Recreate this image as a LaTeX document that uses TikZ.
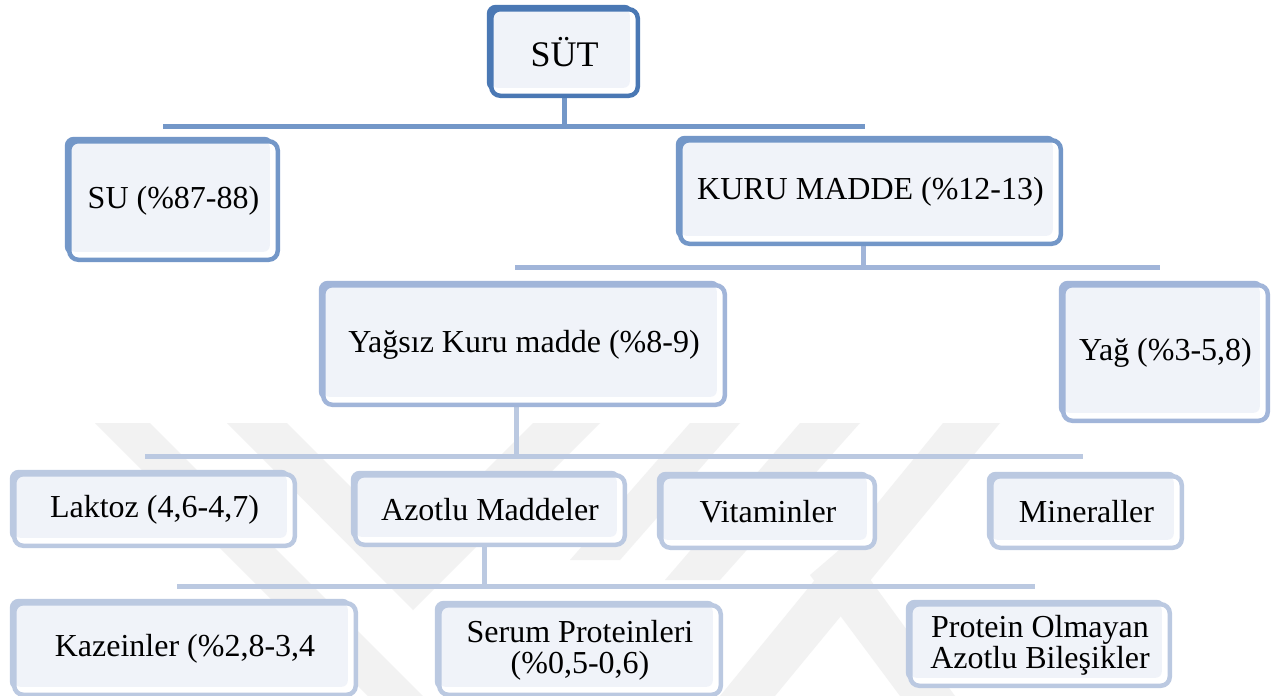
\documentclass[tikz,border=0pt]{standalone}
\usepackage{fontspec}
\setmainfont{Liberation Serif}
\usetikzlibrary{calc}
\definecolor{cA}{HTML}{4A78B4}
\definecolor{cB}{HTML}{7397C8}
\definecolor{cC}{HTML}{A1B5D9}
\definecolor{cD}{HTML}{BBC9E1}
\definecolor{bfill}{HTML}{F0F3F9}
\definecolor{wm}{HTML}{F2F2F2}
\newcommand\boxfont{\fontsize{32}{31}\selectfont}
\newcommand\bigboxfont{\fontsize{36}{36}\selectfont}
\begin{document}
\begin{tikzpicture}[x=1pt,y=-1pt,
  bx/.style={rounded corners=9pt, line width=4.5pt, draw=#1, fill=white,
    inner sep=0pt, align=center, font=\boxfont, text=black,
    preaction={fill=#1, transform canvas={shift={(-4.5pt,4.5pt)}}},
    path picture={\fill[bfill, rounded corners=6pt]
      (path picture bounding box.north west) rectangle
      ([xshift=-8pt,yshift=8pt]path picture bounding box.south east);}},
  conn/.style={draw=#1, line width=5pt},
  wmk/.style={fill=wm, draw=none}]
\useasboundingbox (0,0) rectangle (1277,696);
\fill[white] (0,0) rectangle (1277,696);
% watermark
\fill[wmk] (95,423) -- (150,423) -- (423,696) -- (368,696) -- cycle;
\fill[wmk] (227,423) -- (287,423) -- (410,546) -- (533,423) -- (600,423) -- (413,610) -- cycle;
\fill[wmk] (690,423) -- (740,423) -- (620,560) -- (570,560) -- cycle;
\fill[wmk] (800,423) -- (860,423) -- (720,580) -- (665,580) -- cycle;
\fill[wmk] (943,423) -- (1000,423) -- (775,696) -- (720,696) -- cycle;
\fill[wmk] (810,575) -- (845,545) -- (955,696) -- (900,696) -- cycle;
% junction coordinates
\coordinate (j1) at (564.5,126); \coordinate (j1L) at (163,126); \coordinate (j1R) at (865,126);
\coordinate (j2) at (863,267); \coordinate (j2L) at (515,267); \coordinate (j2R) at (1160,267);
\coordinate (j3) at (516,456); \coordinate (j3L) at (145,456); \coordinate (j3R) at (1083,456);
\coordinate (j4) at (484,586); \coordinate (j4L) at (177,586); \coordinate (j4R) at (1035,586);
% connectors (drawn first, boxes cover them)
\draw[conn=cB] (j1L) -- (j1R);
\draw[conn=cB] (j1) -- ++(0,-40);
\draw[conn=cC] (j2L) -- (j2R);
\draw[conn=cC] (j2) -- ++(0,-40);
\draw[conn=cD] (j3L) -- (j3R);
\draw[conn=cD] (j3) -- ++(0,-60);
\draw[conn=cD] (j4L) -- (j4R);
\draw[conn=cD] (j4) -- ++(0,-50);
% nodes
\node[bx=cA, font=\bigboxfont, minimum width=146.5, minimum height=86.5] (sut) at (564.5,52.5) {SÜT};
\node[bx=cB, minimum width=208.5, minimum height=118.5] (su) at (173.5,200.5) {SU (\%87-88)};
\node[bx=cB, minimum width=380.5, minimum height=103.5] (kuru) at (870.5,192) {KURU MADDE (\%12-13)};
\node[bx=cC, minimum width=401.5, minimum height=119.5] (yagsiz) at (524,345) {Yağsız Kuru madde (\%8-9)};
\node[bx=cC, minimum width=204.5, minimum height=135.5] (yag) at (1165.5,353) {Yağ (\%3-5,8)};
\node[bx=cD, minimum width=280.5, minimum height=71.5] (laktoz) at (154.5,510) {Laktoz (4,6-4,7)};
\node[bx=cD, minimum width=269.5, minimum height=69.5] (azotlu) at (490,510) {Azotlu Maddeler};
\node[bx=cD, minimum width=213.5, minimum height=71.5] (vit) at (768,512) {Vitaminler};
\node[bx=cD, minimum width=190.5, minimum height=71.5] (min) at (1086.5,512) {Mineraller};
\node[bx=cD, minimum width=341.5, minimum height=91.5] (kaz) at (185,649) {Kazeinler (\%2,8-3,4};
\node[bx=cD, minimum width=281.5, minimum height=89.5] (serum) at (580,650) {Serum Proteinleri\\(\%0,5-0,6)};
\node[bx=cD, minimum width=259.5, minimum height=81.5] (prot) at (1040,645) {Protein Olmayan\\Azotlu Bileşikler};
\end{tikzpicture}
\end{document}
